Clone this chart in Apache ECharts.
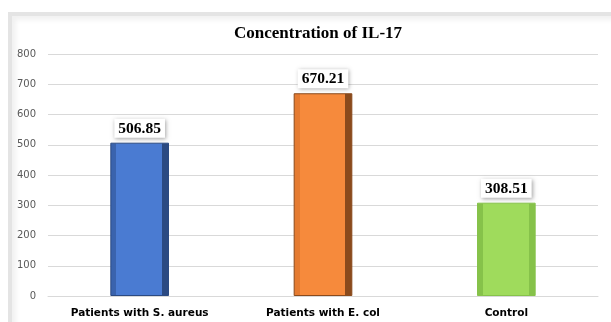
<!DOCTYPE html>
<html>
<head>
<meta charset="utf-8">
<script src="https://cdn.jsdelivr.net/npm/echarts@6/dist/echarts.min.js"></script>
<style>
  html, body { margin: 0; padding: 0; background: #fff; }
  #frame {
    position: absolute; left: 8px; top: 12px; width: 603px; height: 310px;
    border-left: 4px solid #e4e4e4; border-top: 4px solid #e4e4e4;
    box-shadow: inset 4px 4px 5px rgba(0,0,0,0.06);
    box-sizing: border-box;
  }
  #chart { position: absolute; left: 0; top: 0; width: 611px; height: 322px; }
</style>
</head>
<body>
<div id="frame"></div>
<div id="chart"></div>
<script>
const categories = ["Patients with S. aureus", "Patients with E. col", "Control"];
const values = [506.85, 670.21, 308.51];
const yTicks = { min: 0, max: 800, interval: 100 };

// face, left edge, right edge colours per bar
const palette = [
  ["#4a7bd2", "#3a63ad", "#2b4a82"],
  ["#f68a3c", "#e57b31", "#8a4a1c"],
  ["#9fdb5c", "#86c24a", "#86c24a"],
];

function barFill(c) {
  return new echarts.graphic.LinearGradient(0, 0, 1, 0, [
    { offset: 0, color: c[1] },
    { offset: 0.1, color: c[1] },
    { offset: 0.1, color: c[0] },
    { offset: 0.88, color: c[0] },
    { offset: 0.88, color: c[2] },
    { offset: 1, color: c[2] },
  ]);
}

const chart = echarts.init(document.getElementById("chart"), null, { renderer: "canvas" });
chart.setOption({
  animation: false,
  title: {
    text: "Concentration of IL-17",
    left: 313, top: 20, textAlign: "center",
    textStyle: { fontFamily: "Liberation Serif", fontWeight: "bold", fontSize: 17, color: "#000" },
  },
  grid: { left: 48, right: 13, top: 54, bottom: 26 },
  xAxis: {
    type: "category",
    data: categories,
    axisLine: { show: true, lineStyle: { color: "#d9d9d9" } },
    axisTick: { show: false },
    axisLabel: { fontFamily: "DejaVu Sans", fontWeight: "bold", fontSize: 10.5, color: "#000", margin: 12 },
  },
  yAxis: {
    type: "value",
    min: yTicks.min, max: yTicks.max, interval: yTicks.interval,
    axisLine: { show: false },
    axisTick: { show: false },
    axisLabel: { fontFamily: "DejaVu Sans", fontSize: 10, color: "#595959", margin: 12 },
    splitLine: { lineStyle: { color: "#d9d9d9" } },
  },
  series: [{
    type: "bar",
    barWidth: "32%",
    data: values.map((v, i) => ({
      value: v,
      itemStyle: {
        color: barFill(palette[i]),
        borderColor: palette[i][2],
        borderWidth: 1,
      },
    })),
    label: {
      show: true, position: "top", distance: 5,
      formatter: (p) => p.value.toFixed(2),
      fontFamily: "Liberation Serif", fontWeight: "bold", fontSize: 15.5, color: "#000",
      backgroundColor: "#fff", padding: [2, 4, 1, 4],
      shadowColor: "rgba(0,0,0,0.35)", shadowBlur: 4, shadowOffsetX: 1, shadowOffsetY: 1,
    },
  }],
});
</script>
</body>
</html>
